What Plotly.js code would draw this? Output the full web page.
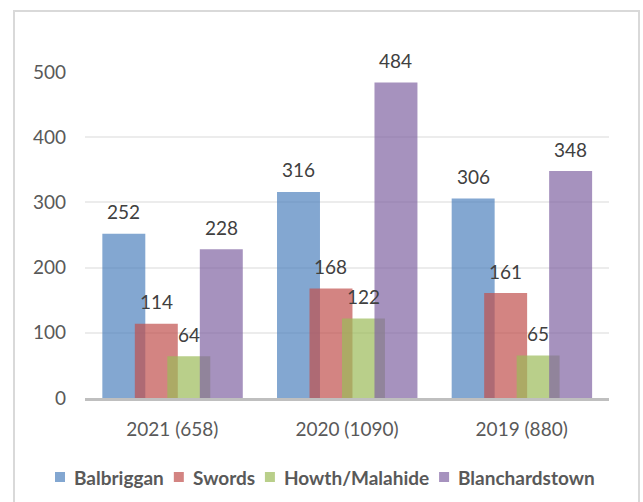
<!DOCTYPE html>
<html>
<head>
<meta charset="utf-8">
<script src="https://cdn.plot.ly/plotly-3.0.1.min.js"></script>
<style>
html,body{margin:0;padding:0;background:#fff;}
#chart{width:643px;height:502px;}
#frame{position:absolute;left:13px;top:10px;width:623px;height:510px;border:2px solid #d9d9d9;pointer-events:none;}
</style>
</head>
<body>
<div id="chart"></div>
<div id="frame"></div>
<script>
const categories = ["2021 (658)", "2020 (1090)", "2019 (880)"];
const seriesNames = ["Balbriggan", "Swords", "Howth/Malahide", "Blanchardstown"];
const balbriggan = [252, 316, 306];
const swords = [114, 168, 161];
const howthMalahide = [64, 122, 65];
const blanchardstown = [228, 484, 348];
const yTicks = [0, 100, 200, 300, 400, 500];

const seriesValues = [balbriggan, swords, howthMalahide, blanchardstown];
const colors = ["#4F81BD", "#C0504D", "#9BBB59", "#8064A2"];
const barW = 0.246, step = 0.186, start = -0.4007;

const W = 643, H = 502;
const M = {l: 85, r: 34, t: 72, b: 104};
const plotW = W - M.l - M.r, plotH = H - M.t - M.b;
const px2x = px => (px - M.l) / plotW;
const py2y = py => (H - M.b - py) / plotH;

const traces = seriesValues.map((vals, i) => ({
  type: "bar",
  name: seriesNames[i],
  x: categories,
  y: vals,
  width: barW,
  offset: start + i * step,
  marker: {color: colors[i], opacity: 0.7},
  hoverinfo: "none",
  showlegend: false
}));

const annotations = [];
seriesValues.forEach((vals, i) => {
  vals.forEach((v, j) => {
    annotations.push({
      x: j + start + i * step + barW / 2,
      y: v,
      xref: "x", yref: "y",
      text: String(v),
      showarrow: false,
      yanchor: "middle",
      yshift: 22,
      font: {family: "Lato, sans-serif", size: 19, color: "#404040"}
    });
  });
});

// Legend (drawn as swatches + text, laid out by measured text widths)
const legendFont = {family: "Lato, sans-serif", size: 19, color: "#595959", weight: "bold"};
const ctx = document.createElement("canvas").getContext("2d");
ctx.font = "bold 19px Lato";
const shapes = [];
let cursor = 55;
const legendY = 477;
seriesNames.forEach((name, i) => {
  shapes.push({
    type: "rect", xref: "paper", yref: "paper",
    x0: px2x(cursor), x1: px2x(cursor + 10),
    y0: py2y(legendY + 5), y1: py2y(legendY - 5),
    fillcolor: colors[i], opacity: 0.7, line: {width: 0}
  });
  const tx = cursor + 17;
  annotations.push({
    x: px2x(tx), y: py2y(legendY),
    xref: "paper", yref: "paper",
    xanchor: "left", yanchor: "middle",
    text: name, showarrow: false,
    font: legendFont
  });
  cursor = tx + ctx.measureText(name).width + 12;
});

const layout = {
  width: W, height: H,
  margin: M,
  paper_bgcolor: "#fff", plot_bgcolor: "#fff",
  barmode: "overlay",
  showlegend: false,
  font: {family: "Lato, sans-serif", size: 19, color: "#595959"},
  xaxis: {
    type: "category",
    showline: true, linecolor: "#bfbfbf", linewidth: 3,
    showgrid: false, ticks: "",
    ticklabelstandoff: 12,
    tickfont: {family: "Lato, sans-serif", size: 19, color: "#595959"}
  },
  yaxis: {
    range: [0, 500],
    tickvals: yTicks,
    showgrid: true, gridcolor: "#ececec", gridwidth: 2,
    zeroline: false, showline: false, ticks: "",
    ticklabelstandoff: 18,
    tickfont: {family: "Lato, sans-serif", size: 19, color: "#595959"}
  },
  shapes: shapes,
  annotations: annotations
};

Plotly.newPlot("chart", traces, layout, {displayModeBar: false, staticPlot: true});
</script>
</body>
</html>
